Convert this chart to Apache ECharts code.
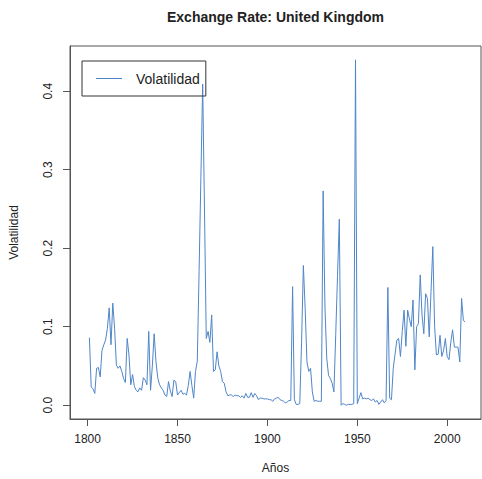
<!DOCTYPE html>
<html>
<head>
<meta charset="utf-8">
<script src="https://cdn.jsdelivr.net/npm/echarts@6/dist/echarts.min.js"></script>
<style>
  html, body { margin: 0; padding: 0; background: #ffffff; }
  #chart { width: 482px; height: 479px; }
</style>
</head>
<body>
<div id="chart"></div>
<script>
// Annual exchange-rate volatility of the pound sterling, 1801-2010
const firstYear = 1801;
const volatilidad = [
  0.086, 0.023, 0.021, 0.015, 0.047, 0.048, 0.036, 0.070, 0.077, 0.083,
  0.098, 0.124, 0.077, 0.130, 0.098, 0.051, 0.047, 0.050, 0.043, 0.034,
  0.029, 0.085, 0.064, 0.026, 0.039, 0.024, 0.019, 0.017, 0.022, 0.019,
  0.035, 0.032, 0.026, 0.094, 0.019, 0.050, 0.091, 0.056, 0.035, 0.026,
  0.022, 0.019, 0.013, 0.011, 0.030, 0.018, 0.011, 0.032, 0.030, 0.013,
  0.016, 0.019, 0.014, 0.015, 0.013, 0.025, 0.043, 0.025, 0.009, 0.043,
  0.056, 0.170, 0.290, 0.409, 0.250, 0.085, 0.094, 0.080, 0.115, 0.043,
  0.045, 0.068, 0.050, 0.043, 0.030, 0.028, 0.017, 0.012, 0.013, 0.013,
  0.011, 0.013, 0.012, 0.012, 0.010, 0.012, 0.009, 0.015, 0.010, 0.010,
  0.016, 0.010, 0.015, 0.012, 0.007, 0.009, 0.009, 0.008, 0.008, 0.008,
  0.007, 0.007, 0.005, 0.008, 0.009, 0.010, 0.007, 0.006, 0.005, 0.003,
  0.004, 0.006, 0.006, 0.151, 0.007, 0.001, 0.001, 0.002, 0.080, 0.178,
  0.123, 0.055, 0.043, 0.047, 0.017, 0.005, 0.006, 0.005, 0.005, 0.005,
  0.273, 0.125, 0.060, 0.038, 0.034, 0.028, 0.017, 0.090, 0.165, 0.237,
  0.000, 0.002, 0.001, 0.000, 0.001, 0.001, 0.001, 0.002, 0.440, 0.002,
  0.009, 0.016, 0.008, 0.009, 0.008, 0.009, 0.007, 0.006, 0.008, 0.004,
  0.006, 0.001, 0.004, 0.007, 0.003, 0.006, 0.150, 0.009, 0.007, 0.047,
  0.065, 0.083, 0.085, 0.062, 0.094, 0.121, 0.075, 0.121, 0.110, 0.100,
  0.134, 0.045, 0.100, 0.104, 0.166, 0.115, 0.091, 0.142, 0.136, 0.087,
  0.145, 0.202, 0.100, 0.064, 0.065, 0.089, 0.062, 0.070, 0.085, 0.062,
  0.058, 0.080, 0.096, 0.074, 0.074, 0.074, 0.055, 0.136, 0.108, 0.106
];
const years = volatilidad.map((_, i) => firstYear + i);
const xTicks = [1800, 1850, 1900, 1950, 2000];
const yTicks = [0.0, 0.1, 0.2, 0.3, 0.4];

const FONT = '"Liberation Sans", Arial, sans-serif';
const LINE_COLOR = '#4f86c8';
const AXIS_COLOR = '#555555';
const TEXT_COLOR = '#222222';

const chart = echarts.init(document.getElementById('chart'), null, { renderer: 'svg' });

chart.setOption({
  animation: false,
  backgroundColor: '#ffffff',
  textStyle: { fontFamily: FONT, color: TEXT_COLOR },
  title: {
    text: 'Exchange Rate: United Kingdom',
    left: 167,
    top: 10,
    padding: 0,
    textStyle: { fontFamily: FONT, fontSize: 14, fontWeight: 'bold', color: TEXT_COLOR }
  },
  legend: {
    left: 82,
    top: 61,
    padding: [9, 6, 9, 14],
    borderColor: '#333333',
    borderWidth: 1,
    itemWidth: 26,
    itemHeight: 1,
    textStyle: { fontFamily: FONT, fontSize: 14, lineHeight: 17, color: TEXT_COLOR, padding: [0, 0, 0, 9] },
    data: [{ name: 'Volatilidad', icon: 'rect' }]
  },
  grid: {
    left: 67,
    top: 46,
    width: 414,
    height: 375,
    show: true,
    borderColor: AXIS_COLOR,
    borderWidth: 1,
    containLabel: false
  },
  xAxis: {
    type: 'value',
    min: 1790.2,
    max: 2018.8,
    name: 'Años',
    nameLocation: 'middle',
    nameGap: 43,
    nameTextStyle: { fontFamily: FONT, fontSize: 12, color: TEXT_COLOR },
    axisLine: { show: true, onZero: false, lineStyle: { color: AXIS_COLOR } },
    axisTick: { show: true, customValues: xTicks, length: 7, lineStyle: { color: AXIS_COLOR } },
    axisLabel: {
      customValues: xTicks,
      margin: 14,
      fontSize: 12,
      color: TEXT_COLOR,
      fontFamily: FONT,
      formatter: v => String(Math.round(v))
    },
    splitLine: { show: false }
  },
  yAxis: {
    type: 'value',
    min: -0.0176,
    max: 0.4576,
    name: 'Volatilidad',
    nameLocation: 'middle',
    nameGap: 50,
    nameRotate: 90,
    nameTextStyle: { fontFamily: FONT, fontSize: 12, color: TEXT_COLOR },
    axisLine: { show: true, onZero: false, lineStyle: { color: AXIS_COLOR } },
    axisTick: { show: true, customValues: yTicks, length: 7, lineStyle: { color: AXIS_COLOR } },
    axisLabel: {
      customValues: yTicks,
      rotate: 90,
      margin: 16,
      fontSize: 12,
      color: TEXT_COLOR,
      fontFamily: FONT,
      formatter: v => Number(v).toFixed(1)
    },
    splitLine: { show: false }
  },
  series: [{
    name: 'Volatilidad',
    type: 'line',
    data: years.map((y, i) => [y, volatilidad[i]]),
    symbol: 'none',
    color: LINE_COLOR,
    lineStyle: { width: 1, color: LINE_COLOR }
  }]
});
</script>
</body>
</html>
